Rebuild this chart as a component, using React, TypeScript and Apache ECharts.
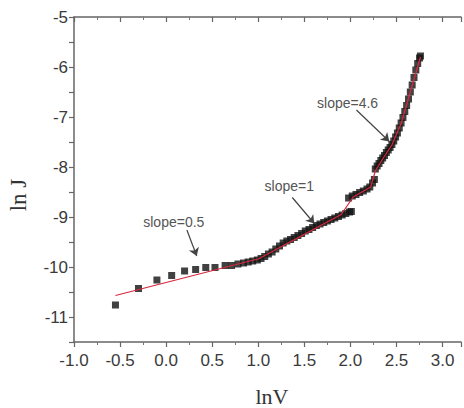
import React, { useEffect, useRef } from "react";
import * as echarts from "echarts";

// Measured points (ln V, ln J)
const lnV = [
  -0.55, -0.3, -0.1, 0.06, 0.2, 0.32, 0.43, 0.53, 0.64, 0.71, 0.78, 0.84, 0.89, 0.94, 0.99, 1.03, 1.07,
  1.11, 1.15, 1.19, 1.23, 1.27, 1.31, 1.35, 1.39, 1.43, 1.47, 1.51, 1.55, 1.59, 1.63, 1.67, 1.71, 1.75,
  1.79, 1.83, 1.87, 1.91, 1.95, 1.99, 2.01,
  1.98, 2.02, 2.06, 2.1, 2.14, 2.18, 2.21, 2.24, 2.26, 2.27, 2.29, 2.31, 2.33, 2.35, 2.37, 2.39, 2.41,
  2.43, 2.45, 2.47, 2.49, 2.51, 2.53, 2.55, 2.57, 2.59, 2.61, 2.63, 2.65, 2.67, 2.69, 2.71, 2.73, 2.75, 2.76,
];
const lnJ = [
  -10.76, -10.43, -10.26, -10.17, -10.08, -10.05, -10.01, -10.01, -9.97, -9.97, -9.94, -9.92, -9.9, -9.88,
  -9.86, -9.83, -9.79, -9.74, -9.7, -9.64, -9.58, -9.52, -9.48, -9.45, -9.41, -9.37, -9.33, -9.28, -9.25,
  -9.21, -9.17, -9.14, -9.11, -9.08, -9.05, -9.02, -8.99, -8.96, -8.93, -8.9, -8.89,
  -8.62, -8.58, -8.55, -8.51, -8.48, -8.44, -8.4, -8.32, -8.25, -8.04, -7.98, -7.93, -7.87, -7.82, -7.77,
  -7.71, -7.66, -7.61, -7.55, -7.48, -7.4, -7.32, -7.22, -7.12, -7.01, -6.89, -6.77, -6.64, -6.5, -6.36,
  -6.21, -6.06, -5.93, -5.82, -5.78,
];

// Red fitted line
const fitLnV = [-0.55, 0.95, 1.0, 1.9, 2.03, 2.22, 2.27, 2.35, 2.45, 2.55, 2.65, 2.76];
const fitLnJ = [-10.57, -9.86, -9.84, -8.95, -8.6, -8.4, -8.08, -7.84, -7.56, -7.13, -6.5, -5.8];

// Annotations (data coordinates)
const slopeLabels = ["slope=0.5", "slope=1", "slope=4.6"];
const labelPos = [
  [0.083, -9.1],
  [1.337, -8.38],
  [1.969, -6.72],
];
const arrowFrom = [
  [0.225, -9.26],
  [1.369, -8.61],
  [2.065, -6.86],
];
const arrowTo = [
  [0.332, -9.78],
  [1.608, -9.13],
  [2.422, -7.49],
];

const X_MIN = -1;
const X_MAX = 3.2;
const Y_MIN = -11.5;
const Y_MAX = -5;

const TICK_FONT = '"Liberation Sans", Arial, sans-serif';
const SERIF = '"Liberation Serif", "Times New Roman", serif';

export default function App() {
  const ref = useRef<HTMLDivElement>(null);

  useEffect(() => {
    document.body.style.margin = "0";
    if (!ref.current) return;
    const chart = echarts.init(ref.current, null, { renderer: "svg" });

    const axisLine = { lineStyle: { color: "#666", width: 1.5 } };
    const xFmt = (v: number) => (Math.abs(v * 2 - Math.round(v * 2)) < 1e-6 ? v.toFixed(1) : "");
    const yFmt = (v: number) => (Math.abs(v - Math.round(v)) < 1e-6 ? String(Math.round(v)) : "");

    chart.setOption({
      animation: false,
      grid: { left: 74, top: 17, right: -2, bottom: 66, containLabel: false },
      xAxis: [
        {
          type: "value",
          min: X_MIN,
          max: X_MAX,
          interval: 0.5,
          position: "bottom",
          axisLine: { show: true, onZero: false, ...axisLine },
          axisTick: { show: true, inside: false, length: 5, lineStyle: { color: "#666", width: 1.2 } },
          minorTick: { show: true, splitNumber: 2, length: 3, lineStyle: { color: "#777", width: 1 } },
          axisLabel: {
            formatter: xFmt,
            color: "#3a3a3a",
            fontSize: 17,
            fontFamily: TICK_FONT,
            margin: 10,
          },
          splitLine: { show: false },
        },
        {
          type: "value",
          min: X_MIN,
          max: X_MAX,
          interval: 0.5,
          position: "top",
          axisLine: { show: true, onZero: false, ...axisLine },
          axisTick: { show: true, inside: true, length: 5, lineStyle: { color: "#666", width: 1.2 } },
          minorTick: { show: true, splitNumber: 2, length: 3, lineStyle: { color: "#777", width: 1 } },
          axisLabel: { show: false },
          splitLine: { show: false },
        },
      ],
      yAxis: {
        type: "value",
        min: Y_MIN,
        max: Y_MAX,
        interval: 0.5,
        axisLine: { show: true, onZero: false, ...axisLine },
        axisTick: { show: true, inside: false, length: 5, lineStyle: { color: "#666", width: 1.2 } },
        axisLabel: {
          formatter: yFmt,
          color: "#3a3a3a",
          fontSize: 17,
          fontFamily: TICK_FONT,
          margin: 6,
        },
        splitLine: { show: false },
      },
      series: [
        {
          type: "scatter",
          data: lnV.map((x, i) => [x, lnJ[i]]),
          symbol: "rect",
          symbolSize: 7,
          itemStyle: { color: "#111" },
          z: 2,
        },
        {
          type: "line",
          data: fitLnV.map((x, i) => [x, fitLnJ[i]]),
          showSymbol: false,
          symbol: "none",
          lineStyle: { color: "#d8283c", width: 1.2 },
          z: 3,
          markLine: {
            silent: true,
            symbol: ["none", "arrow"],
            symbolSize: 8,
            label: { show: false },
            lineStyle: { color: "#444", width: 1.2, type: "solid" },
            data: arrowFrom.map((p, i) => [{ coord: p }, { coord: arrowTo[i] }]),
          },
        },
      ],
    });

    const texts: any[] = slopeLabels.map((t, i) => {
      const [px, py] = chart.convertToPixel({ gridIndex: 0 }, labelPos[i]) as number[];
      return {
        type: "text",
        x: px,
        y: py,
        style: {
          text: t,
          fill: "#555",
          fontSize: 14,
          fontFamily: TICK_FONT,
          align: "center",
          verticalAlign: "middle",
        },
      };
    });
    texts.push({
      type: "text",
      x: 272,
      y: 396,
      style: {
        text: "lnV",
        fill: "#333",
        fontSize: 22,
        fontFamily: SERIF,
        align: "center",
        verticalAlign: "middle",
      },
    });
    texts.push({
      type: "text",
      x: 18,
      y: 195,
      rotation: Math.PI / 2,
      style: {
        text: "ln J",
        fill: "#333",
        fontSize: 23,
        fontFamily: SERIF,
        align: "center",
        verticalAlign: "middle",
      },
    });
    chart.setOption({ graphic: texts });

    return () => chart.dispose();
  }, []);

  return (
    <div
      ref={ref}
      style={{ position: "absolute", left: 0, top: 0, width: 464, height: 408, background: "#fff" }}
    />
  );
}
